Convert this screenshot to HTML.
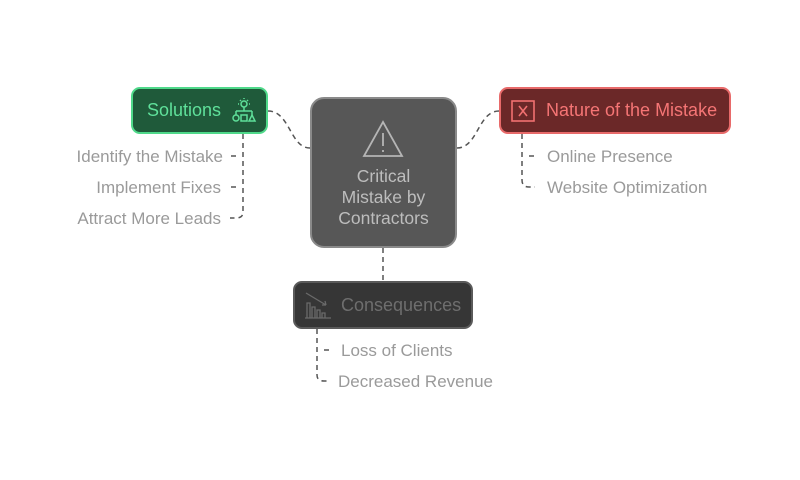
<!DOCTYPE html>
<html><head><style>
body{margin:0;width:800px;height:480px;background:#fff;position:relative;overflow:hidden;font-family:"Liberation Sans",sans-serif}
.b{position:absolute;box-sizing:border-box;border-radius:9px}
.t{position:absolute;font-size:17px;color:#9a9a9a;white-space:nowrap}
.r{text-align:right;width:200px}
</style></head><body>
<svg width="800" height="480" style="position:absolute;left:0;top:0">
<g fill="none" stroke="#555" stroke-width="1.5" stroke-dasharray="5,4">
<path d="M268 111 C290 111 290 148 310 148"/>
<path d="M457 148 C478 148 478 111 499 111"/>
<path d="M383 248 V281"/>
<path d="M243 134 V212 Q243 218 236 218 H230"/>
<path d="M236 156 H230"/><path d="M236 187 H230"/>
<path d="M522 134 V180 Q522 187 529 187 H535"/>
<path d="M529 156 H535"/>
<path d="M317 329 V375 Q317 381 324 381 H330"/>
<path d="M324 350 H330"/>
</g></svg>
<div class="b" style="left:131px;top:87px;width:137px;height:47px;background:#1f5a3a;border:2px solid #4fd98a"></div>
<div class="t" style="left:147px;top:100px;color:#5fe09a;font-size:18px">Solutions</div>
<svg width="26" height="26" style="position:absolute;left:231px;top:98px" fill="none" stroke="#5fe09a" stroke-width="1.5"><circle cx="13" cy="6" r="3"/><path d="M13 0v1M7 6h1M18 6h1M9 2l1 1M17 2l-1 1M13 9v4M5 13h16M5 13v4M21 13v4"/><circle cx="5" cy="20" r="3"/><rect x="10" y="17" width="6" height="6"/><path d="M21 17l3 6h-6z"/></svg>
<div class="b" style="left:310px;top:97px;width:147px;height:151px;background:#575757;border:2px solid #8a8a8a;border-radius:14px"></div>
<svg width="42" height="38" style="position:absolute;left:362px;top:120px" fill="none" stroke="#b5b5b5" stroke-width="1.8"><path d="M21 2L40 36H2Z"/><path d="M21 13v13M21 30v2"/></svg>
<div class="t" style="left:310px;top:166px;width:147px;text-align:center;color:#bdbdbd;font-size:17.5px;line-height:21px;white-space:normal">Critical<br>Mistake by<br>Contractors</div>
<div class="b" style="left:499px;top:87px;width:232px;height:47px;background:#6b2828;border:2px solid #e86a6a"></div>
<svg width="24" height="22" style="position:absolute;left:511px;top:100px" fill="none" stroke="#f07070" stroke-width="1.6"><rect x="1" y="1" width="22" height="20"/><path d="M8 6l8 10M16 6l-8 10"/></svg>
<div class="t" style="left:546px;top:100px;color:#f57575;font-size:18px">Nature of the Mistake</div>
<div class="b" style="left:293px;top:281px;width:180px;height:48px;background:#363636;border:2px solid #5a5a5a"></div>
<svg width="28" height="28" style="position:absolute;left:304px;top:291px" fill="none" stroke="#6a6a6a" stroke-width="1.3"><path d="M2 2l20 12M22 14l-4 0M22 14l-1-4M1 27h26M3 27V12h3v15M8 27V16h3v11M13 27v-8h3v8M18 27v-5h3v5"/></svg>
<div class="t" style="left:341px;top:295px;color:#6e6e6e;font-size:18px">Consequences</div>
<div class="t r" style="left:23px;top:147px">Identify the Mistake</div>
<div class="t r" style="left:21px;top:178px">Implement Fixes</div>
<div class="t r" style="left:21px;top:209px">Attract More Leads</div>
<div class="t" style="left:547px;top:147px">Online Presence</div>
<div class="t" style="left:547px;top:178px">Website Optimization</div>
<div class="t" style="left:341px;top:341px">Loss of Clients</div>
<div class="t" style="left:338px;top:372px">Decreased Revenue</div>
</body></html>
